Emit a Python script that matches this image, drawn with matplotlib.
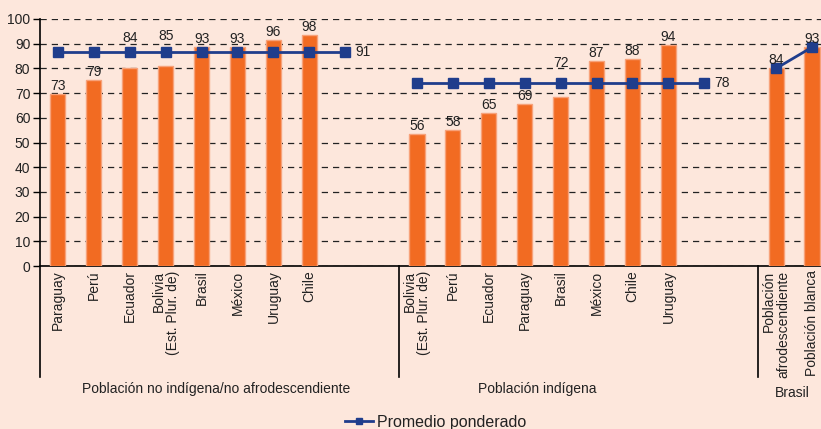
import numpy as np
import matplotlib
matplotlib.use("Agg")
import matplotlib.pyplot as plt
import matplotlib.transforms as mtransforms
from matplotlib.lines import Line2D

plt.rcParams['font.family'] = ['Liberation Sans', 'DejaVu Sans']

# ---- data -------------------------------------------------------------
grp1_names = ["Paraguay", "Perú", "Ecuador", "Bolivia\n(Est. Plur. de)",
              "Brasil", "México", "Uruguay", "Chile"]
grp1_values = [73, 79, 84, 85, 93, 93, 96, 98]
grp1_avg = 91

grp2_names = ["Bolivia\n(Est. Plur. de)", "Perú", "Ecuador", "Paraguay",
              "Brasil", "México", "Chile", "Uruguay"]
grp2_values = [56, 58, 65, 69, 72, 87, 88, 94]
grp2_avg = 78

grp3_names = ["Población\nafrodescendiente", "Población blanca"]
grp3_values = [84, 93]

group_titles = ["Población no indígena/no afrodescendiente",
                "Población indígena", "Brasil"]
legend_label = "Promedio ponderado"

# ---- styling ----------------------------------------------------------
BG = "#fde7dc"
BAR = "#f26b22"
BAR_EDGE = "#f7a27a"
LINE = "#1f3d8c"
TXT = "#222222"
AXIS_STRETCH = 1.05          # value axis labelled 0-100 over a 0-105 span

fig = plt.figure(figsize=(8.21, 4.29), dpi=100, facecolor=BG)
ax = fig.add_axes([40 / 821, 163 / 429, 781 / 821, 247 / 429], facecolor=BG)

# category slots: group 1 uses slots 0-9, group 2 slots 10-19, group 3 slots 20-21
x1 = np.arange(len(grp1_values))
x2 = 10 + np.arange(len(grp2_values))
x3 = 20 + np.arange(len(grp3_values))

bw = 0.42
for xs, vals in ((x1, grp1_values), (x2, grp2_values), (x3, grp3_values)):
    ax.bar(xs, vals, width=bw, color=BAR, edgecolor=BAR_EDGE, linewidth=1.0, zorder=3)

# weighted-average lines span one extra slot past the last bar
avg1_x = np.arange(len(grp1_values) + 1)
avg2_x = 10 + np.arange(len(grp2_values) + 1)
mk = dict(color=LINE, lw=2, marker="s", markersize=6.5, zorder=4)
ax.plot(avg1_x, [grp1_avg] * len(avg1_x), **mk)
ax.plot(avg2_x, [grp2_avg] * len(avg2_x), **mk)
ax.plot(x3, grp3_values, **mk)

ax.annotate(str(grp1_avg), (avg1_x[-1], grp1_avg), xytext=(10, 0),
            textcoords="offset pixels", va="center", ha="left", fontsize=10, color=TXT)
ax.annotate(str(grp2_avg), (avg2_x[-1], grp2_avg), xytext=(10, 0),
            textcoords="offset pixels", va="center", ha="left", fontsize=10, color=TXT)

# value labels above bars (a few lifted clear of the average line)
lift1 = {2: 22, 3: 22}
lift2 = {4: 26}
for xs, vals, lift in ((x1, grp1_values, lift1), (x2, grp2_values, lift2),
                       (x3, grp3_values, {})):
    for i, (x, v) in enumerate(zip(xs, vals)):
        ax.annotate(str(v), (x, v), xytext=(0, 1 + lift.get(i, 0)),
                    textcoords="offset pixels", ha="center", va="bottom",
                    fontsize=10, color=TXT, zorder=5)

# axes limits and y ticks
ax.set_xlim(-0.5, 21.25)
ax.set_ylim(0, 100 * AXIS_STRETCH)
tick_vals = np.arange(0, 101, 10)
ax.set_yticks(tick_vals * AXIS_STRETCH)
ax.set_yticklabels([str(t) for t in tick_vals], fontsize=10, color=TXT)
ax.tick_params(axis="y", direction="out", length=5, width=1, color="black", pad=2)
ax.set_xticks([])
ax.grid(axis="y", linestyle=(0, (5, 4)), color="#222222", linewidth=0.9, zorder=1)
ax.set_axisbelow(True)
for s in ("top", "right"):
    ax.spines[s].set_visible(False)
ax.spines["bottom"].set_linewidth(1.2)
ax.spines["left"].set_visible(False)

# axis line and group separators extending below the category area
trans = mtransforms.blended_transform_factory(ax.transData, ax.transAxes)
for xb in (-0.5, 9.5, 19.5):
    ax.add_line(Line2D([xb, xb], [1.0 if xb == -0.5 else 0.0, -0.449],
                       transform=trans, color="black", lw=1.2, clip_on=False))

# category labels
for xs, names in ((x1, grp1_names), (x2, grp2_names), (x3, grp3_names)):
    for x, n in zip(xs, names):
        ax.text(x, -0.018, n, transform=trans, rotation=90, ha="center", va="top",
                multialignment="right", fontsize=10, color=TXT, linespacing=1.0)

# group titles
ax.text(4.4, -0.498, group_titles[0], transform=trans, ha="center", va="center",
        fontsize=10, color=TXT)
ax.text(13.35, -0.498, group_titles[1], transform=trans, ha="center", va="center",
        fontsize=10, color=TXT)
ax.text(20.45, -0.514, group_titles[2], transform=trans, ha="center", va="center",
        fontsize=10, color=TXT)

# legend
handle = Line2D([], [], color=LINE, lw=2, marker="s", markersize=5)
fig.legend([handle], [legend_label], loc="center", bbox_to_anchor=(436 / 821, 7 / 429),
           frameon=False, fontsize=11.5, handlelength=1.7, handletextpad=0.3,
           labelcolor=TXT)

fig.savefig("out.png", dpi=100, facecolor=BG)
